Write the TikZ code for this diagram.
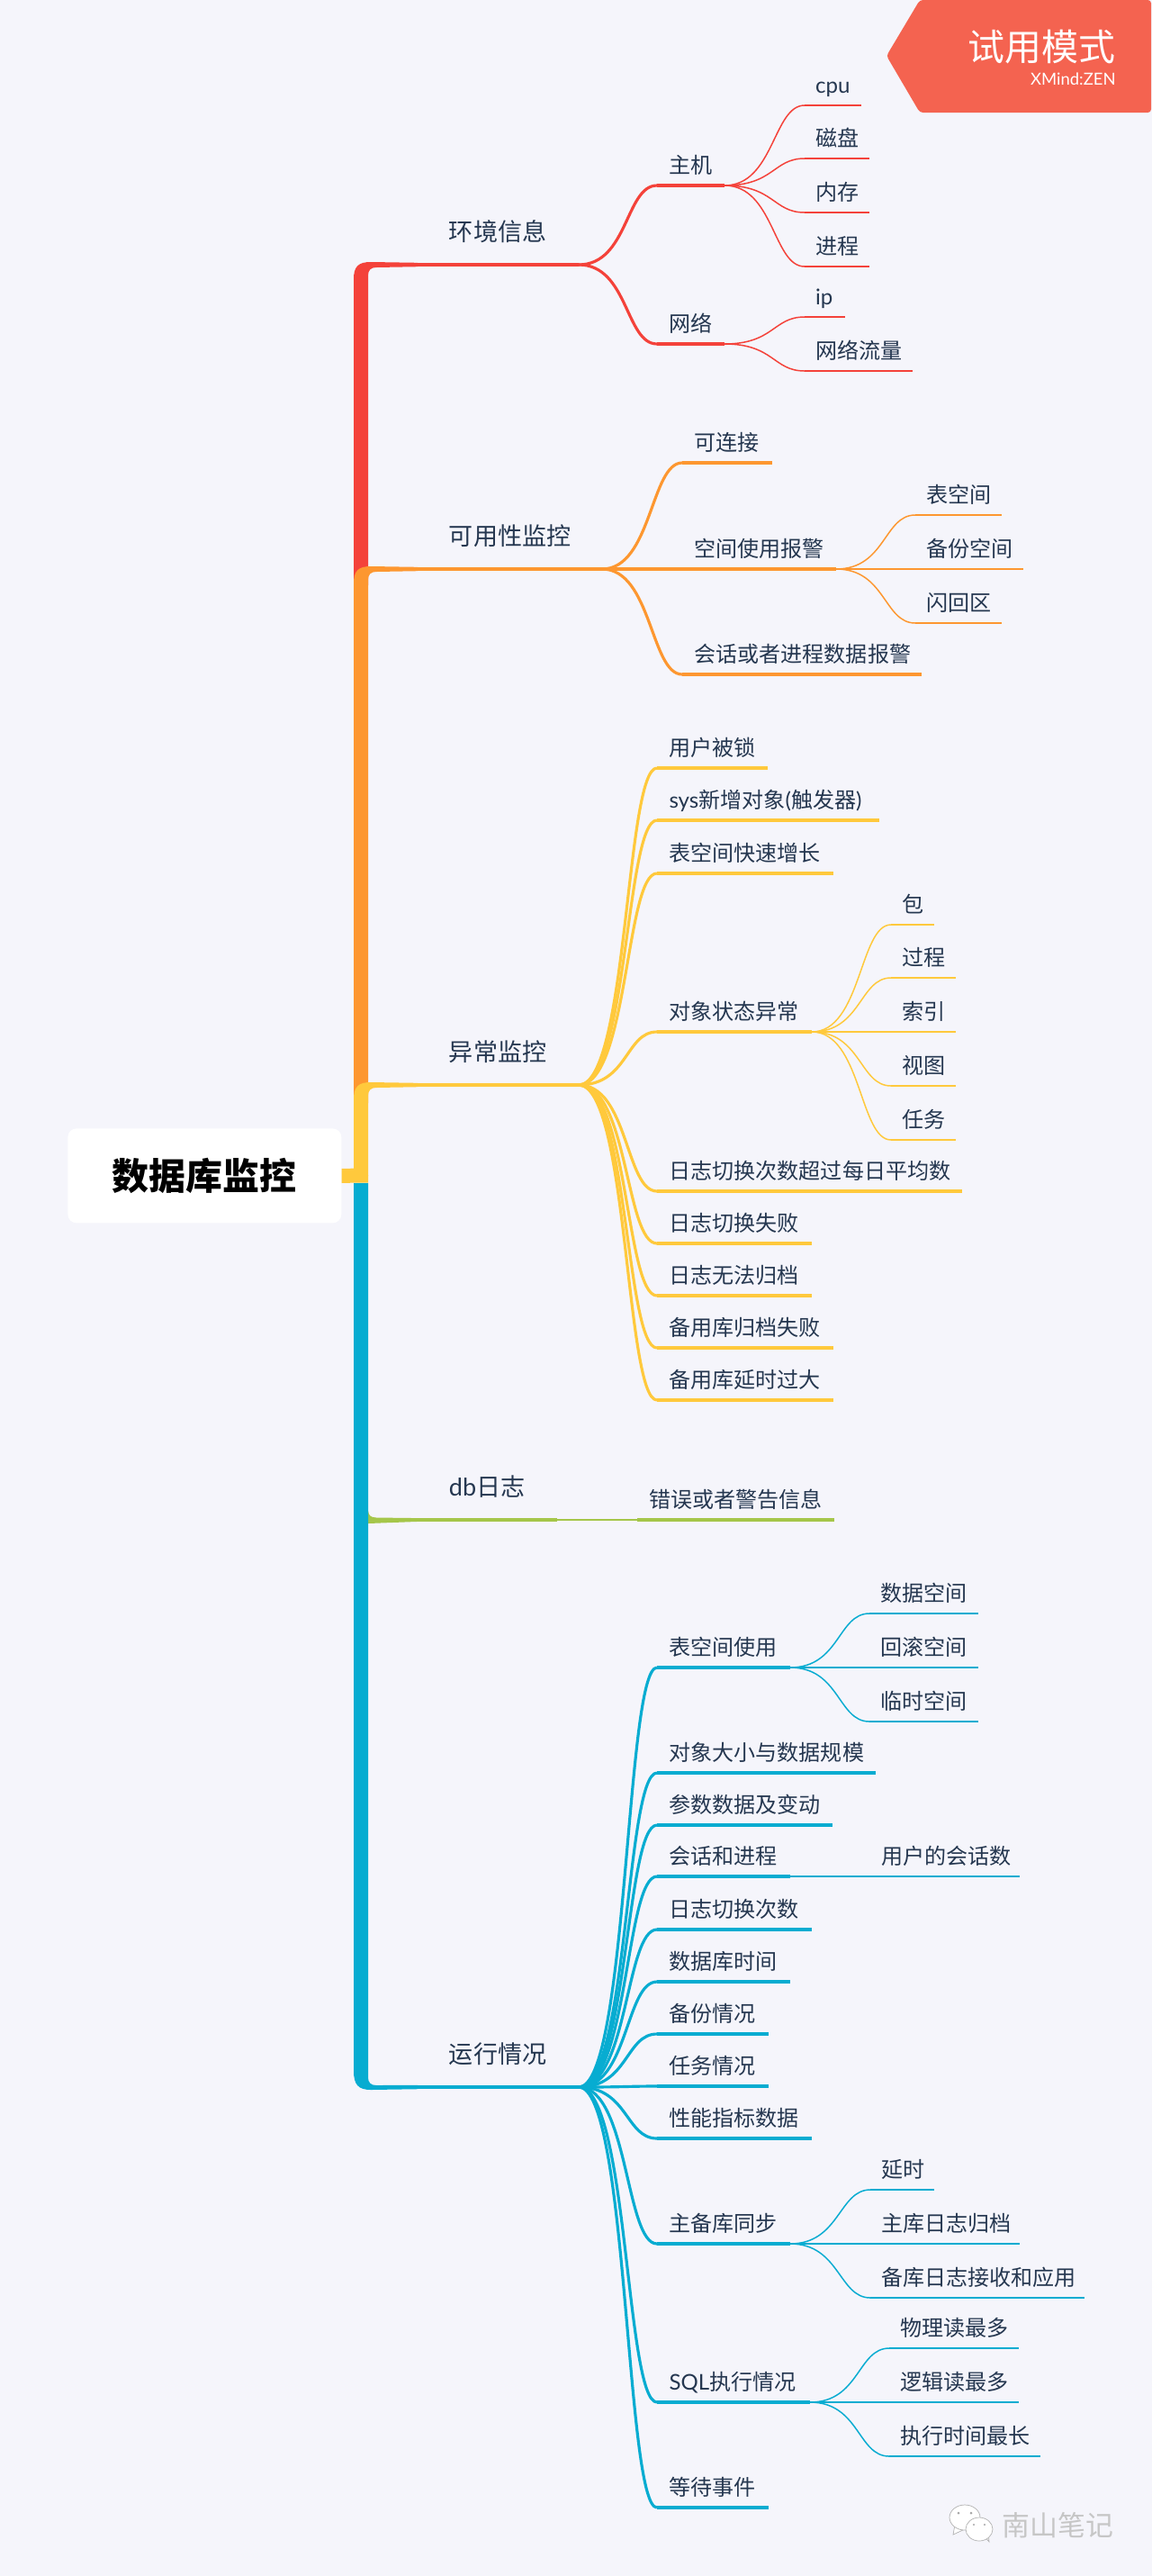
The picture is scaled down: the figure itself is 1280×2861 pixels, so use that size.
\documentclass[tikz,border=0pt]{standalone}
\usepackage{fontspec}
\setmainfont{Noto Sans CJK SC}
\newfontfamily\lat{Lato}
\usetikzlibrary{positioning,calc}
\definecolor{bgc}{HTML}{F5F5FB}
\definecolor{ink}{HTML}{253750}
\definecolor{redc}{HTML}{F4423A}
\definecolor{orangec}{HTML}{FD9730}
\definecolor{yellowc}{HTML}{FFC93C}
\definecolor{greenc}{HTML}{A5C64A}
\definecolor{bluec}{HTML}{07ACD1}
\definecolor{badgec}{HTML}{F46350}
\begin{document}
\begin{tikzpicture}[x=0.02cm,y=-0.02cm,
 topic/.style={anchor=south west,outer sep=0pt,text=ink,text depth=0pt,text height=1em,align=left},
 tp/.style={topic,inner xsep=0.7cm,inner ysep=0.53cm,text width={(#1-70)*0.02cm},font=\fontsize{15.4}{18}\selectfont,
  append after command={(\tikzlastnode.south west) edge[line width=1.8pt] (\tikzlastnode.south east)}},
 st/.style={topic,inner xsep=0.27cm,inner ysep=0.28cm,text width={(#1-27)*0.02cm},font=\fontsize{13.7}{16}\selectfont,
  append after command={(\tikzlastnode.south west) edge[line width=2pt] (\tikzlastnode.south east)}},
 lf/.style={topic,inner xsep=0.24cm,inner ysep=0.28cm,text width={(#1-24)*0.02cm},font=\fontsize{13.7}{16}\selectfont,
  append after command={(\tikzlastnode.south west) edge[line width=1.4pt] (\tikzlastnode.south east)}},
 c1/.style={line width=1.8pt,to path={.. controls +(55,0) and +(-35,0) .. (\tikztotarget)}},
 c2/.style={line width=0.85pt,to path={.. controls +(55,0) and +(-35,0) .. (\tikztotarget)}}]
\useasboundingbox[fill=bgc] (0,0) rectangle (1280,2861);
% badge
\fill[badgec,rounded corners=2pt] (1022,0) -- (985,62) -- (1022,125) -- (1279,125) -- (1279,0) -- cycle;
\node[anchor=east,inner sep=0pt,text=white,font=\fontsize{23.3}{26}\selectfont] (trial) at (1240,52) {试用模式};
\node[anchor=east,inner sep=0pt,text=white,font=\fontsize{10.5}{12}\selectfont] (brand) at (1240,88) {\lat XMind:ZEN};
\node[anchor=north west,fill=white,rounded corners=5.5pt,inner sep=0pt,minimum width=6.08cm,minimum height=2.1cm,text=black,font=\fontsize{23.3}{26}\selectfont\bfseries] (root) at (75,1253) {数据库监控};
\coordinate (stub) at (409,1305.5);
% environment
\begin{scope}[redc]
\node[tp=179] (env) at (464,294) {环境信息};
\fill (393,650) -- (393,310) .. controls (393,296) and (398,291) .. (412,291) -- ([yshift=1.25pt]env.south west) -- ([yshift=-1.25pt]env.south west) -- (418,297) .. controls (412,297) and (409,300) .. (409,306) -- (409,650) -- cycle;
\node[st=75] (host) at (730,206) {主机};
\node[st=75] (net) at (730,382) {网络};
\node[lf=63] (cpu) at (894,117) {{\lat cpu}};
\node[lf=72] (disk) at (894,176) {磁盘};
\node[lf=72] (mem) at (894,236) {内存};
\node[lf=72] (proc) at (894,296) {进程};
\node[lf=45] (ip) at (894,352) {{\lat ip}};
\node[lf=120] (traffic) at (894,412) {网络流量};
\draw[c1] (env.south east) to (host.south west);
\draw[c1] (env.south east) to (net.south west);
\draw[c2] (host.south east) to (cpu.south west);
\draw[c2] (host.south east) to (disk.south west);
\draw[c2] (host.south east) to (mem.south west);
\draw[c2] (host.south east) to (proc.south west);
\draw[c2] (net.south east) to (ip.south west);
\draw[c2] (net.south east) to (traffic.south west);
\end{scope}
% availability
\begin{scope}[orangec]
\node[tp=205] (avail) at (464,632) {可用性监控};
\fill (393,1225) -- (393,648) .. controls (393,634) and (398,629) .. (412,629) -- ([yshift=1.25pt]avail.south west) -- ([yshift=-1.25pt]avail.south west) -- (418,635) .. controls (412,635) and (409,638) .. (409,644) -- (409,1225) -- cycle;
\node[st=100] (link) at (758,514) {可连接};
\node[st=171] (space) at (758,632) {空间使用报警};
\node[st=266] (sess) at (758,749) {会话或者进程数据报警};
\node[lf=96] (tbsp) at (1017,572) {表空间};
\node[lf=120] (bksp) at (1017,632) {备份空间};
\node[lf=96] (flash) at (1017,692) {闪回区};
\draw[c1] (avail.south east) to (link.south west);
\draw[c1] (avail.south east) to (space.south west);
\draw[c1] (avail.south east) to (sess.south west);
\draw[c2] (space.south east) to (tbsp.south west);
\draw[c2] (space.south east) to (bksp.south west);
\draw[c2] (space.south east) to (flash.south west);
\end{scope}
% anomalies
\begin{scope}[yellowc]
\node[tp=179] (abn) at (464,1205) {异常监控};
\fill (393,1306) -- (393,1221) .. controls (393,1207) and (398,1202) .. (412,1202) -- ([yshift=1.25pt]abn.south west) -- ([yshift=-1.25pt]abn.south west) -- (418,1208) .. controls (412,1208) and (409,1211) .. (409,1217) -- (409,1306) -- cycle;
\draw[line width=9.1pt] (root.east) -- (stub);
\node[st=123] (lock) at (730,853) {用户被锁};
\node[st=247] (newobj) at (730,911) {{\lat sys}新增对象{\lat (}触发器{\lat )}};
\node[st=196] (grow) at (730,970) {表空间快速增长};
\node[st=172] (state) at (730,1146) {对象状态异常};
\node[st=339] (swmany) at (730,1323) {日志切换次数超过每日平均数};
\node[st=172] (swfail) at (730,1381) {日志切换失败};
\node[st=172] (noarch) at (730,1439) {日志无法归档};
\node[st=196] (stdarch) at (730,1497) {备用库归档失败};
\node[st=196] (stdlag) at (730,1555) {备用库延时过大};
\node[lf=48] (pkg) at (990,1027) {包};
\node[lf=72] (procd) at (990,1086) {过程};
\node[lf=72] (idx) at (990,1146) {索引};
\node[lf=72] (view) at (990,1206) {视图};
\node[lf=72] (job) at (990,1266) {任务};
\draw[c1] (abn.south east) to (lock.south west);
\draw[c1] (abn.south east) to (newobj.south west);
\draw[c1] (abn.south east) to (grow.south west);
\draw[c1] (abn.south east) to (state.south west);
\draw[c1] (abn.south east) to (swmany.south west);
\draw[c1] (abn.south east) to (swfail.south west);
\draw[c1] (abn.south east) to (noarch.south west);
\draw[c1] (abn.south east) to (stdarch.south west);
\draw[c1] (abn.south east) to (stdlag.south west);
\draw[c2] (state.south east) to (pkg.south west);
\draw[c2] (state.south east) to (procd.south west);
\draw[c2] (state.south east) to (idx.south west);
\draw[c2] (state.south east) to (view.south west);
\draw[c2] (state.south east) to (job.south west);
\end{scope}
% db log
\begin{scope}[greenc]
\node[tp=155] (dblog) at (464,1688) {{\lat db}日志};
\fill (409,1678) .. controls (410,1684) and (412,1685) .. (418,1685.5) -- ([yshift=1.1pt]dblog.south west) -- ([yshift=-1.1pt]dblog.south west) -- (409,1692) -- cycle;
\node[st=219] (errmsg) at (708,1688) {错误或者警告信息};
\draw[c1,line width=1.1pt] (dblog.south east) to (errmsg.south west);
\end{scope}
% running state
\begin{scope}[bluec]
\node[tp=179] (run) at (464,2318) {运行情况};
\fill (393,1314) -- (393,2300) .. controls (393,2315) and (398,2321) .. (412,2321) -- ([yshift=-1.25pt]run.south west) -- ([yshift=1.25pt]run.south west) -- (418,2316) .. controls (412,2316) and (409,2313) .. (409,2307) -- (409,1314) -- cycle;
\node[st=148] (tsuse) at (730,1852) {表空间使用};
\node[st=243] (objsize) at (730,1969) {对象大小与数据规模};
\node[st=195] (param) at (730,2027) {参数数据及变动};
\node[st=148] (sessn) at (730,2084) {会话和进程};
\node[st=172] (swcount) at (730,2143) {日志切换次数};
\node[st=148] (dbtime) at (730,2201) {数据库时间};
\node[st=124] (backup) at (730,2259) {备份情况};
\node[st=124] (jobs) at (730,2317) {任务情况};
\node[st=172] (perf) at (730,2375) {性能指标数据};
\node[st=148] (sync) at (730,2492) {主备库同步};
\node[st=170] (sqlrun) at (730,2668) {{\lat SQL}执行情况};
\node[st=124] (wait) at (730,2785) {等待事件};
\node[lf=121] (datasp) at (966,1792) {数据空间};
\node[lf=121] (undosp) at (966,1852) {回滚空间};
\node[lf=121] (tempsp) at (966,1912) {临时空间};
\node[lf=166] (usern) at (967,2084) {用户的会话数};
\node[lf=71] (delay) at (967,2432) {延时};
\node[lf=166] (parch) at (967,2492) {主库日志归档};
\node[lf=238] (sapply) at (967,2552) {备库日志接收和应用};
\node[lf=144] (physrd) at (988,2608) {物理读最多};
\node[lf=144] (logrd) at (988,2668) {逻辑读最多};
\node[lf=168] (exectm) at (988,2728) {执行时间最长};
\draw[c1] (run.south east) to (tsuse.south west);
\draw[c1] (run.south east) to (objsize.south west);
\draw[c1] (run.south east) to (param.south west);
\draw[c1] (run.south east) to (sessn.south west);
\draw[c1] (run.south east) to (swcount.south west);
\draw[c1] (run.south east) to (dbtime.south west);
\draw[c1] (run.south east) to (backup.south west);
\draw[c1] (run.south east) to (jobs.south west);
\draw[c1] (run.south east) to (perf.south west);
\draw[c1] (run.south east) to (sync.south west);
\draw[c1] (run.south east) to (sqlrun.south west);
\draw[c1] (run.south east) to (wait.south west);
\draw[c2] (tsuse.south east) to (datasp.south west);
\draw[c2] (tsuse.south east) to (undosp.south west);
\draw[c2] (tsuse.south east) to (tempsp.south west);
\draw[c2] (sessn.south east) to (usern.south west);
\draw[c2] (sync.south east) to (delay.south west);
\draw[c2] (sync.south east) to (parch.south west);
\draw[c2] (sync.south east) to (sapply.south west);
\draw[c2] (sqlrun.south east) to (physrd.south west);
\draw[c2] (sqlrun.south east) to (logrd.south west);
\draw[c2] (sqlrun.south east) to (exectm.south west);
\end{scope}
% watermark
\filldraw[white,draw=gray!60,line width=0.4pt] (1061,2804) -- (1059,2815) -- (1072,2809) -- cycle;
\filldraw[white,draw=gray!60,line width=0.4pt] (1072,2796) ellipse (17 and 14);
\filldraw[white,draw=gray!60,line width=0.4pt] (1093,2816) -- (1099,2823) -- (1098,2812) -- cycle;
\filldraw[white,draw=gray!60,line width=0.4pt] (1088,2809) ellipse (15 and 13);
\fill[gray!70] (1065,2791) circle (1.5) (1079,2791) circle (1.5) (1082,2804) circle (1.2) (1094,2804) circle (1.2);
\node[anchor=west,inner sep=0pt,text=gray!45!white,font=\fontsize{17.6}{20}\selectfont] (mark) at (1113,2805) {南山笔记};
\end{tikzpicture}
\end{document}
